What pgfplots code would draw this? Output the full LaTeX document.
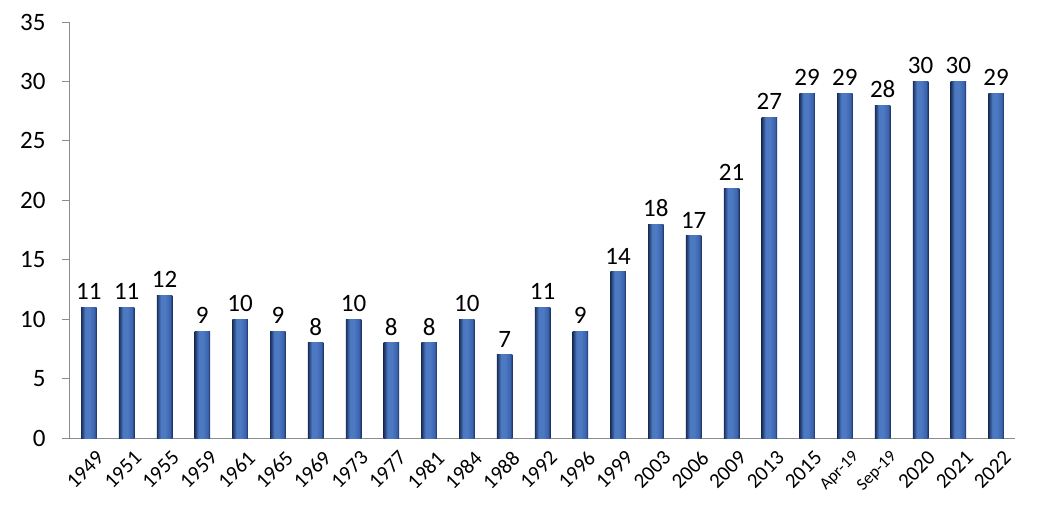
\documentclass[border=0pt]{standalone}
\usepackage{pgfplots}
\usepackage{pgfplotstable}
\pgfplotsset{compat=1.18}
\usepackage{fontspec}
\setmainfont{Carlito}
\definecolor{bardark}{HTML}{1A2E5A}
\definecolor{barlight}{HTML}{4C79C2}
\definecolor{barmid}{HTML}{3A63AC}
\definecolor{axgray}{HTML}{8C8C8C}
\pgfdeclarehorizontalshading{barshade}{100bp}{color(0bp)=(bardark); color(25bp)=(bardark); color(38bp)=(barlight); color(52bp)=(barlight); color(68bp)=(barmid); color(75bp)=(bardark); color(100bp)=(bardark)}
\pgfplotstableread{
x y
0 11
1 11
2 12
3 9
4 10
5 9
6 8
7 10
8 8
9 8
10 10
11 7
12 11
13 9
14 14
15 18
16 17
17 21
18 27
19 29
20 29
21 28
22 30
23 30
24 29
}\data
\begin{document}
\begin{tikzpicture}
\useasboundingbox (-70pt,-85pt) rectangle (978pt,438pt);
\begin{axis}[
  scale only axis,
  width=945pt, height=416pt,
  at={(0,0)}, anchor=south west,
  ymin=0, ymax=35,
  ytick={0,5,...,35},
  xmin=-0.5, xmax=24.5,
  xtick={0,...,24},
  xticklabels={1949,1951,1955,1959,1961,1965,1969,1973,1977,1981,1984,1988,1992,1996,1999,2003,2006,2009,2013,2015,{\fontsize{17}{17}\selectfont Apr-19},{\fontsize{17}{17}\selectfont Sep-19},2020,2021,2022},
  axis x line*=bottom,
  axis y line*=left,
  axis line style={axgray, line width=1pt},
  tick style={axgray, line width=1pt},
  major tick length=8pt,
  tick align=outside,
  extra x ticks={-0.5,0.5,...,24.5},
  extra x tick labels={},
  extra x tick style={major tick length=8pt, tick style={axgray}},
  xtick style={draw=none},
  yticklabel style={font=\fontsize{25}{25}\selectfont, xshift=-13pt},
  xticklabel style={font=\fontsize{21}{21}\selectfont, rotate=45, anchor=north east, inner sep=1pt, xshift=3pt, yshift=-6pt},
  /pgf/number format/assume math mode=true,
  clip=false,
]
\pgfplotsinvokeforeach{0,...,24}{
\addplot[ybar, bar width=15.5pt, bar shift=0pt, shading=barshade, draw=none,
  restrict x to domain=#1:#1,
  nodes near coords,
  every node near coord/.append style={font=\fontsize{25}{25}\selectfont, black, yshift=4pt}]
  table[x=x, y=y] {\data};
}
\end{axis}
\end{tikzpicture}
\end{document}
